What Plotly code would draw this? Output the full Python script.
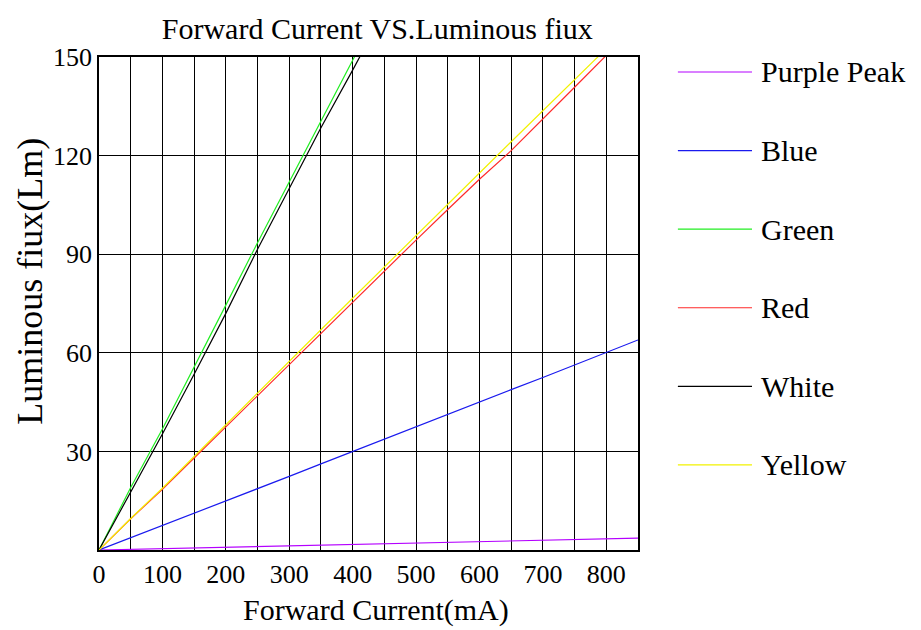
import plotly.graph_objects as go

# Forward current (mA) sample points
CURRENT = [0, 50, 100, 150, 200, 250, 300, 350, 400, 450, 500, 550, 600, 650, 700, 750, 800, 850]
CURRENT_FAST = [0, 50, 100, 150, 200, 250, 300, 350, 400, 450]

# Luminous flux (lm) per colour
PURPLE_PEAK = [0, 0.2, 0.4, 0.6, 0.85, 1.05, 1.25, 1.5, 1.7, 1.9, 2.1, 2.3, 2.55, 2.75, 2.95, 3.2, 3.4, 3.6]
BLUE = [0, 3.7, 7.4, 11.1, 14.9, 18.6, 22.4, 26.2, 30.0, 33.7, 37.5, 41.2, 45.0, 48.8, 52.5, 56.3, 60.1, 63.9]
GREEN = [0, 19.0, 36.8, 55.5, 74.5, 93.5, 112.0, 130.5, 149.2, 167.5]
RED = [0, 9.5, 18.5, 28.0, 37.5, 47.0, 56.5, 66.0, 75.5, 85.0, 94.3, 103.6, 112.8, 121.5, 131.3, 140.8, 150.5, 160.0]
WHITE = [0, 17.5, 35.3, 53.5, 72.0, 91.5, 110.0, 128.5, 146.0, 164.0]
YELLOW = [0, 9.6, 18.8, 28.5, 38.2, 47.8, 57.4, 67.0, 76.6, 86.2, 95.7, 105.2, 114.7, 124.2, 133.6, 142.8, 152.5, 162.0]

SERIES = [
    ("Purple Peak", CURRENT, PURPLE_PEAK, "#b400ff"),
    ("Blue", CURRENT, BLUE, "#1a1aee"),
    ("Green", CURRENT_FAST, GREEN, "#22ee22"),
    ("Red", CURRENT, RED, "#ff2a2a"),
    ("White", CURRENT_FAST, WHITE, "#000000"),
    ("Yellow", CURRENT, YELLOW, "#f2f200"),
]

X_TICKS = list(range(0, 851, 50))
X_LABELS = [str(v) if v % 100 == 0 and v <= 800 else "" for v in X_TICKS]
Y_TICKS = [0, 30, 60, 90, 120, 150]
Y_LABELS = ["", "30", "60", "90", "120", "150"]

FONT = "Liberation Serif"

fig = go.Figure()
for name, x, y, color in SERIES:
    fig.add_trace(go.Scatter(x=x, y=y, name=name, mode="lines",
                             line=dict(color=color, width=1.2), showlegend=False))

# hand-drawn legend with long line samples, like the original
for i, (name, _, _, color) in enumerate(SERIES):
    ypos = 0.9696 - i * 0.1594
    fig.add_shape(type="line", xref="paper", yref="paper", x0=1.074, x1=1.2115,
                  y0=ypos, y1=ypos, line=dict(color=color, width=1.2))
    fig.add_annotation(text=name, xref="paper", yref="paper", x=1.224, y=ypos,
                       xanchor="left", yanchor="middle", showarrow=False,
                       font=dict(family=FONT, size=30, color="black"))

# axis titles sit a little off-centre in the original
fig.add_annotation(text="Forward Current(mA)", xref="paper", yref="paper", x=0.514, y=-0.1217,
                   xanchor="center", yanchor="middle", showarrow=False,
                   font=dict(family=FONT, size=30, color="black"))
fig.add_annotation(text="Luminous fiux(Lm)", xref="paper", yref="paper", x=-0.128, y=0.544,
                   xanchor="center", yanchor="middle", textangle=-90, showarrow=False,
                   font=dict(family=FONT, size=36, color="black"))

axis_style = dict(showline=True, linecolor="black", linewidth=1.5, mirror=True,
                  showgrid=True, gridcolor="black", gridwidth=1, zeroline=False,
                  ticks="", tickfont=dict(family=FONT, size=26, color="black"))

fig.update_xaxes(range=[0, 850], tickmode="array", tickvals=X_TICKS, ticktext=X_LABELS, **axis_style)
fig.update_yaxes(range=[0, 150], tickmode="array", tickvals=Y_TICKS, ticktext=Y_LABELS, **axis_style)

# the page body adds an 8px offset, so margins are shifted to compensate
fig.update_layout(
    width=921, height=630,
    margin=dict(l=91, r=291, t=49, b=88),
    paper_bgcolor="white", plot_bgcolor="white",
    font=dict(family=FONT, color="black"),
    title=dict(text="Forward Current VS.Luminous fiux", x=0.401, xanchor="center", y=0.968, yanchor="middle",
               font=dict(family=FONT, size=30, color="black")),
)

fig.write_html("out.html")
